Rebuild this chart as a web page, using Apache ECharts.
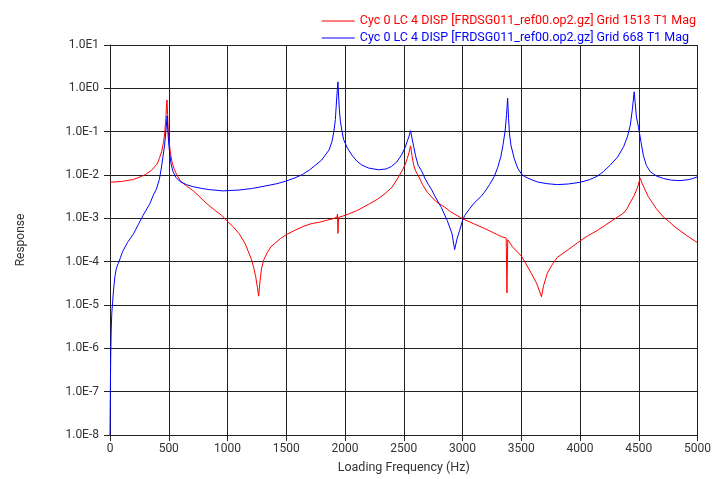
<!DOCTYPE html>
<html>
<head>
<meta charset="utf-8">
<script src="https://cdn.jsdelivr.net/npm/echarts@6/dist/echarts.min.js"></script>
<style>
html,body{margin:0;padding:0;background:#fff;overflow:hidden;}
#chart{width:100vw;height:100vh;}
</style>
</head>
<body>
<div id="chart"></div>
<script>
var seriesNames = [
  'Cyc 0 LC 4 DISP [FRDSG011_ref00.op2.gz] Grid 1513 T1 Mag',
  'Cyc 0 LC 4 DISP [FRDSG011_ref00.op2.gz] Grid 668 T1 Mag'
];
var xTicks = [0, 500, 1000, 1500, 2000, 2500, 3000, 3500, 4000, 4500, 5000];
var yTicks = [1e-8, 1e-7, 1e-6, 1e-5, 1e-4, 1e-3, 1e-2, 1e-1, 1e0, 1e1];

// Grid 1513 (red): frequency (Hz) and magnitude
var redFreq = [0,100,200,250,300,350,400,420,440,455,465,475,480,485,490,495,500,510,520,530,545,560,600,650,700,750,800,850,900,950,1000,1050,1100,1150,1200,1220,1240,1255,1265,1275,1290,1310,1340,1370,1400,1450,1500,1580,1650,1720,1780,1850,1900,1932,1936,1940,1945,2000,2100,2200,2280,2340,2400,2450,2490,2510,2530,2545,2558,2570,2585,2600,2625,2660,2700,2770,2850,2900,3000,3100,3190,3260,3330,3372,3378,3385,3426,3503,3540,3582,3630,3655,3672,3690,3722,3760,3807,3900,4000,4070,4145,4220,4290,4370,4400,4430,4460,4490,4512,4530,4550,4580,4620,4650,4710,4760,4800,4850,4920,5000];
var redMag = [6.8e-3,7.1e-3,7.9e-3,8.9e-3,1.02e-2,1.26e-2,1.78e-2,2.4e-2,3.5e-2,5.6e-2,8.9e-2,0.2,0.35,0.54,0.25,0.112,7.1e-2,4.0e-2,2.6e-2,1.9e-2,1.41e-2,1.12e-2,7.2e-3,5.6e-3,4.5e-3,3.4e-3,2.5e-3,1.9e-3,1.48e-3,1.17e-3,8.5e-4,6.3e-4,4.4e-4,2.6e-4,1.2e-4,7.9e-5,4.5e-5,2.5e-5,1.6e-5,3.2e-5,7.1e-5,1.12e-4,1.66e-4,2.2e-4,2.6e-4,3.4e-4,4.2e-4,5.4e-4,6.6e-4,7.6e-4,8.1e-4,9.1e-4,9.8e-4,1.07e-3,1.26e-3,4.5e-4,1.05e-3,1.17e-3,1.5e-3,2.1e-3,2.8e-3,3.7e-3,5.2e-3,8.5e-3,1.32e-2,1.7e-2,2.4e-2,3.3e-2,4.7e-2,2.8e-2,1.66e-2,1.26e-2,9.5e-3,6.0e-3,4.0e-3,2.5e-3,1.8e-3,1.41e-3,9.8e-4,7.4e-4,5.8e-4,4.7e-4,3.8e-4,3.5e-4,1.9e-5,3.2e-4,2.2e-4,1.32e-4,8.9e-5,5.6e-5,3.2e-5,2.1e-5,1.55e-5,2.8e-5,5.4e-5,8.3e-5,1.26e-4,1.9e-4,3.0e-4,4.0e-4,5.2e-4,7.1e-4,9.5e-4,1.32e-3,1.66e-3,2.4e-3,3.3e-3,5.2e-3,8.5e-3,6.3e-3,4.8e-3,3.2e-3,2.2e-3,1.66e-3,1.07e-3,8.3e-4,6.6e-4,5.2e-4,3.8e-4,2.75e-4];

// Grid 668 (blue): frequency (Hz) and magnitude
var blueFreq = [0,3,6,10,15,22,30,42,55,70,90,107,150,200,240,280,340,370,395,420,437,452,465,475,482,486,490,495,502,510,520,536,560,592,650,705,780,846,960,1100,1213,1325,1420,1495,1570,1636,1700,1750,1800,1833,1865,1889,1905,1918,1930,1940,1946,1952,1960,1975,1988,2020,2058,2100,2143,2200,2284,2350,2397,2440,2481,2510,2530,2545,2558,2570,2585,2600,2623,2651,2679,2710,2735,2764,2800,2820,2848,2870,2890,2910,2933,2955,2975,3000,3018,3060,3102,3158,3187,3230,3271,3300,3327,3345,3362,3375,3384,3392,3400,3412,3440,3469,3500,3525,3582,3638,3720,3807,3900,4002,4080,4145,4200,4258,4320,4371,4405,4428,4445,4461,4470,4480,4498,4520,4540,4565,4597,4650,4710,4780,4851,4920,4960,5000];
var blueMag = [1e-8,1e-7,6.3e-7,2.5e-6,6.3e-6,1.12e-5,2.2e-5,4.6e-5,7.1e-5,9.1e-5,1.26e-4,1.7e-4,2.8e-4,4.4e-4,7.1e-4,1.15e-3,2.2e-3,3.5e-3,4.7e-3,7.9e-3,1.45e-2,2.8e-2,4.9e-2,0.1,0.158,0.23,0.141,7.9e-2,4.5e-2,2.8e-2,1.78e-2,1.2e-2,8.9e-3,7.2e-3,6.0e-3,5.4e-3,4.9e-3,4.6e-3,4.3e-3,4.5e-3,4.9e-3,5.6e-3,6.3e-3,7.2e-3,8.5e-3,1.02e-2,1.32e-2,1.7e-2,2.2e-2,2.9e-2,3.8e-2,5.9e-2,0.1,0.19,0.63,1.41,0.63,0.32,0.178,0.1,6.6e-2,4.2e-2,2.9e-2,2.1e-2,1.7e-2,1.45e-2,1.32e-2,1.38e-2,1.58e-2,2.0e-2,2.9e-2,4.2e-2,6.0e-2,7.9e-2,0.105,7.1e-2,4.5e-2,2.8e-2,1.66e-2,1.26e-2,8.5e-3,6.0e-3,4.7e-3,3.3e-3,2.2e-3,1.78e-3,1.2e-3,8.9e-4,6.3e-4,4.5e-4,1.9e-4,3.5e-4,5.2e-4,8.9e-4,1.15e-3,1.66e-3,2.3e-3,3.2e-3,4.0e-3,6.0e-3,9.3e-3,1.51e-2,2.7e-2,5.0e-2,0.1,0.25,0.59,0.2,8.9e-2,4.9e-2,2.4e-2,1.45e-2,1.07e-2,9.3e-3,7.9e-3,6.9e-3,6.3e-3,6.0e-3,6.2e-3,6.8e-3,7.8e-3,9.3e-3,1.2e-2,1.7e-2,2.6e-2,4.5e-2,7.9e-2,0.141,0.32,0.83,0.45,0.22,0.126,5.6e-2,2.75e-2,1.66e-2,1.2e-2,9.5e-3,8.3e-3,7.6e-3,7.4e-3,7.8e-3,8.3e-3,9.1e-3];

function pairs(xs, ys){ return xs.map(function(x,i){ return [x, ys[i]]; }); }

var W = window.innerWidth || 714, H = window.innerHeight || 479;
var sx = W / 714, sy = H / 479, sf = Math.min(sx, sy);
var chart = echarts.init(document.getElementById('chart'), null, {renderer:'canvas', width: W, height: H});
var font = 'Roboto, "Liberation Sans", sans-serif';
var gridColor = '#222';
var labelColor = '#333';
chart.setOption({
  animation: false,
  backgroundColor: '#fff',
  legend: {
    orient: 'vertical',
    right: 13 * sx,
    top: 9 * sy,
    itemGap: 3 * sy,
    itemWidth: 33 * sx,
    itemHeight: 1,
    icon: 'rect',
    textStyle: {fontFamily: font, fontSize: 12.5 * sf, lineHeight: 14 * sy, padding: [0,0,0,0]},
    data: [
      {name: seriesNames[0], textStyle: {color: '#ff0000'}},
      {name: seriesNames[1], textStyle: {color: '#0000ff'}}
    ]
  },
  grid: {left: 110 * sx, right: 13 * sx, top: 45 * sy, bottom: 39 * sy, containLabel: false},
  xAxis: {
    type: 'value',
    min: xTicks[0],
    max: xTicks[xTicks.length-1],
    interval: 500,
    name: 'Loading Frequency (Hz)',
    nameLocation: 'middle',
    nameGap: 26 * sy,
    nameTextStyle: {fontFamily: font, fontSize: 12.5 * sf, color: labelColor},
    axisLine: {show: true, lineStyle: {color: gridColor, width: 1}},
    axisTick: {show: true, length: 6, lineStyle: {color: gridColor}},
    axisLabel: {fontFamily: font, fontSize: 12 * sf, color: labelColor, margin: 8 * sy,
      formatter: function(v){ return String(v); }},
    splitLine: {show: true, lineStyle: {color: gridColor, width: 1}}
  },
  yAxis: {
    type: 'log',
    logBase: 10,
    min: yTicks[0],
    max: yTicks[yTicks.length-1],
    name: 'Response',
    nameLocation: 'middle',
    nameRotate: 90,
    nameGap: 83 * sx,
    nameTextStyle: {fontFamily: font, fontSize: 12 * sf, color: labelColor},
    axisLine: {show: true, lineStyle: {color: gridColor, width: 1}},
    axisTick: {show: true, length: 6, lineStyle: {color: gridColor}},
    axisLabel: {
      fontFamily: font, fontSize: 12 * sf, color: labelColor, margin: 11 * sx,
      formatter: function(v){ return '1.0E' + Math.round(Math.log10(v)); }
    },
    splitLine: {show: true, lineStyle: {color: gridColor, width: 1}}
  },
  series: [
    {name: seriesNames[0], type: 'line', data: pairs(redFreq, redMag), showSymbol: false,
     color: '#ff0000', lineStyle: {color: '#ff0000', width: 1}, z: 2},
    {name: seriesNames[1], type: 'line', data: pairs(blueFreq, blueMag), showSymbol: false,
     color: '#0000ff', lineStyle: {color: '#0000ff', width: 1}, z: 3}
  ]
});
</script>
</body>
</html>
